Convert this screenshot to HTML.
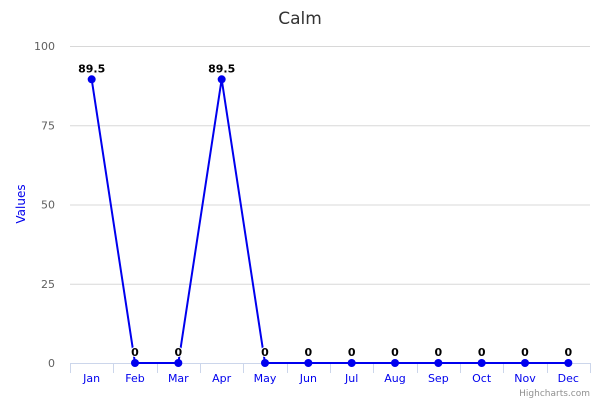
<!DOCTYPE html>
<html><head><meta charset="utf-8"><style>
html,body{margin:0;padding:0;background:#fff;}
svg{display:block;font-family:"DejaVu Sans","Liberation Sans",sans-serif;}
</style></head><body>
<svg id="chart" width="600" height="400" xmlns="http://www.w3.org/2000/svg">
<rect width="600" height="400" fill="#fff"/>
<text x="300" y="24" text-anchor="middle" font-size="17" fill="#333">Calm</text>
<text transform="translate(25,204) rotate(-90)" text-anchor="middle" font-size="12" fill="#0000ee">Values</text>
<text x="590" y="396" text-anchor="end" font-size="9" fill="#909090">Highcharts.com</text>
<g id="grid"></g><g id="xaxis"></g><g id="series"></g>
</svg>
<script>
const categories=["Jan","Feb","Mar","Apr","May","Jun","Jul","Aug","Sep","Oct","Nov","Dec"];
const values=[89.5,0,0,89.5,0,0,0,0,0,0,0,0];
const yTicks=[0,25,50,75,100];
const L=70,R=590,T=46,B=363,ymax=100;
const ns="http://www.w3.org/2000/svg";
const cw=(R-L)/categories.length;
function x(i){return L+cw*(i+0.5);}
function y(v){return B-(v/ymax)*(B-T);}
function mk(tag,attrs,parent){const e=document.createElementNS(ns,tag);for(const k in attrs)e.setAttribute(k,attrs[k]);parent.appendChild(e);return e;}
const grid=document.getElementById('grid'),xa=document.getElementById('xaxis'),se=document.getElementById('series');
yTicks.forEach(t=>{
  const l=mk('line',{x1:L,x2:R,y1:y(t)+0.5,y2:y(t)+0.5,stroke:t===0?'#ccd6eb':'#d8d8d8','stroke-width':1},grid);
  
  
  const tx=mk('text',{x:55,y:y(t)+4,'text-anchor':'end','font-size':11,fill:'#606060'},grid);
  tx.textContent=t;
  
  
});
for(let i=0;i<=categories.length;i++){
  const px=Math.round(L+cw*i)+0.5;
  const tk=mk('line',{x1:px,x2:px,y1:B,y2:B+10,stroke:'#ccd6eb'},xa);
  
  
}
categories.forEach((c,i)=>{
  const tx=mk('text',{x:x(i),y:382,'text-anchor':'middle','font-size':11,fill:'#0000ee'},xa);
  tx.textContent=c;
  
  
});
const pl=mk('polyline',{points:values.map((v,i)=>x(i)+','+y(v)).join(' '),fill:'none',stroke:'#0000ee','stroke-width':2},se);


values.forEach((v,i)=>{
  const c=mk('circle',{cx:x(i),cy:y(v),r:4,fill:'#0000ee'},se);
  
  
  const t=mk('text',{x:x(i),y:y(v)-7,'text-anchor':'middle','font-size':11,'font-weight':'bold',fill:'#000',stroke:'#fff','stroke-width':2,'paint-order':'stroke'},se);
  t.textContent=v;
  
  
});
</script>
</body></html>
